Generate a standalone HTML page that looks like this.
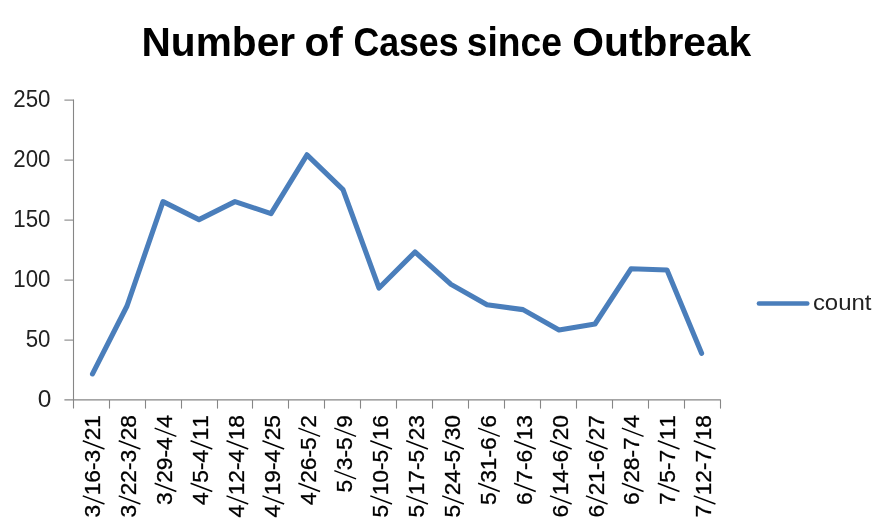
<!DOCTYPE html>
<html lang="en"><head><meta charset="utf-8"><title>Number of Cases since Outbreak</title>
<style>
html,body{margin:0;padding:0;background:#fff;}
body{width:890px;height:524px;overflow:hidden;}
svg{display:block;will-change:transform;}
text{font-family:"Liberation Sans",sans-serif;}
</style></head><body>
<svg width="890" height="524" viewBox="0 0 890 524">
<rect x="0" y="0" width="890" height="524" fill="#ffffff"/>

<g font-weight="bold" font-size="41" fill="#000">
<text x="141.5" y="56.3" textLength="153.6" lengthAdjust="spacingAndGlyphs">Number</text>
<text x="304.5" y="56.3" textLength="38.3" lengthAdjust="spacingAndGlyphs">of</text>
<text x="353.4" y="56.3" textLength="105.1" lengthAdjust="spacingAndGlyphs">Cases</text>
<text x="466.8" y="56.3" textLength="95.2" lengthAdjust="spacingAndGlyphs">since</text>
<text x="572.3" y="56.3" textLength="179.0" lengthAdjust="spacingAndGlyphs">Outbreak</text>
</g>
<g stroke="#868686" stroke-width="1.1" fill="none">
<line x1="73.5" y1="99.6" x2="73.5" y2="408.6"/>
<line x1="64.4" y1="399.88" x2="720.9" y2="399.88"/>
<line x1="64.4" y1="340.10" x2="73.5" y2="340.10"/>
<line x1="64.4" y1="280.10" x2="73.5" y2="280.10"/>
<line x1="64.4" y1="220.10" x2="73.5" y2="220.10"/>
<line x1="64.4" y1="160.10" x2="73.5" y2="160.10"/>
<line x1="64.4" y1="100.10" x2="73.5" y2="100.10"/>
<line x1="109.50" y1="400.0" x2="109.50" y2="408.6"/>
<line x1="145.50" y1="400.0" x2="145.50" y2="408.6"/>
<line x1="181.50" y1="400.0" x2="181.50" y2="408.6"/>
<line x1="217.50" y1="400.0" x2="217.50" y2="408.6"/>
<line x1="252.50" y1="400.0" x2="252.50" y2="408.6"/>
<line x1="288.50" y1="400.0" x2="288.50" y2="408.6"/>
<line x1="324.50" y1="400.0" x2="324.50" y2="408.6"/>
<line x1="360.50" y1="400.0" x2="360.50" y2="408.6"/>
<line x1="396.50" y1="400.0" x2="396.50" y2="408.6"/>
<line x1="432.50" y1="400.0" x2="432.50" y2="408.6"/>
<line x1="468.50" y1="400.0" x2="468.50" y2="408.6"/>
<line x1="504.50" y1="400.0" x2="504.50" y2="408.6"/>
<line x1="540.50" y1="400.0" x2="540.50" y2="408.6"/>
<line x1="576.50" y1="400.0" x2="576.50" y2="408.6"/>
<line x1="612.50" y1="400.0" x2="612.50" y2="408.6"/>
<line x1="648.50" y1="400.0" x2="648.50" y2="408.6"/>
<line x1="684.50" y1="400.0" x2="684.50" y2="408.6"/>
<line x1="720.50" y1="400.0" x2="720.50" y2="408.6"/>
</g>
<g font-size="23.2" fill="#222" text-anchor="end">
<text x="51.3" y="407.0" textLength="13.6" lengthAdjust="spacingAndGlyphs">0</text>
<text x="50.5" y="347.0" textLength="24.8" lengthAdjust="spacingAndGlyphs">50</text>
<text x="50.5" y="287.0" textLength="37.2" lengthAdjust="spacingAndGlyphs">100</text>
<text x="50.5" y="227.0" textLength="37.2" lengthAdjust="spacingAndGlyphs">150</text>
<text x="50.5" y="167.0" textLength="37.2" lengthAdjust="spacingAndGlyphs">200</text>
<text x="50.5" y="107.0" textLength="37.2" lengthAdjust="spacingAndGlyphs">250</text>
</g>
<g font-size="22.8" fill="#000" stroke="#000" stroke-width="0.3">
<text transform="translate(100.37,415.0) rotate(-90)" x="-102.59 -80.34 -67.74 -55.07 -47.49 -25.24 -12.64" y="0">316-321</text>
<text transform="translate(136.31,415.0) rotate(-90)" x="-102.59 -80.34 -67.74 -55.07 -47.49 -25.24 -12.64" y="0">322-328</text>
<text transform="translate(172.25,415.0) rotate(-90)" x="-89.99 -67.74 -55.14 -42.47 -34.89 -12.64" y="0">329-44</text>
<text transform="translate(208.19,415.0) rotate(-90)" x="-89.99 -67.74 -55.07 -47.49 -25.24 -12.64" y="0">45-411</text>
<text transform="translate(244.12,415.0) rotate(-90)" x="-102.59 -80.34 -67.74 -55.07 -47.49 -25.24 -12.64" y="0">412-418</text>
<text transform="translate(280.06,415.0) rotate(-90)" x="-102.59 -80.34 -67.74 -55.07 -47.49 -25.24 -12.64" y="0">419-425</text>
<text transform="translate(316.00,415.0) rotate(-90)" x="-89.99 -67.74 -55.14 -42.47 -34.89 -12.64" y="0">426-52</text>
<text transform="translate(351.94,415.0) rotate(-90)" x="-77.39 -55.14 -42.47 -34.89 -12.64" y="0">53-59</text>
<text transform="translate(387.88,415.0) rotate(-90)" x="-102.59 -80.34 -67.74 -55.07 -47.49 -25.24 -12.64" y="0">510-516</text>
<text transform="translate(423.82,415.0) rotate(-90)" x="-102.59 -80.34 -67.74 -55.07 -47.49 -25.24 -12.64" y="0">517-523</text>
<text transform="translate(459.76,415.0) rotate(-90)" x="-102.59 -80.34 -67.74 -55.07 -47.49 -25.24 -12.64" y="0">524-530</text>
<text transform="translate(495.70,415.0) rotate(-90)" x="-89.99 -67.74 -55.14 -42.47 -34.89 -12.64" y="0">531-66</text>
<text transform="translate(531.64,415.0) rotate(-90)" x="-89.99 -67.74 -55.07 -47.49 -25.24 -12.64" y="0">67-613</text>
<text transform="translate(567.57,415.0) rotate(-90)" x="-102.59 -80.34 -67.74 -55.07 -47.49 -25.24 -12.64" y="0">614-620</text>
<text transform="translate(603.51,415.0) rotate(-90)" x="-102.59 -80.34 -67.74 -55.07 -47.49 -25.24 -12.64" y="0">621-627</text>
<text transform="translate(639.45,415.0) rotate(-90)" x="-89.99 -67.74 -55.14 -42.47 -34.89 -12.64" y="0">628-74</text>
<text transform="translate(675.39,415.0) rotate(-90)" x="-89.99 -67.74 -55.07 -47.49 -25.24 -12.64" y="0">75-711</text>
<text transform="translate(711.33,415.0) rotate(-90)" x="-102.59 -80.34 -67.74 -55.07 -47.49 -25.24 -12.64" y="0">712-718</text>
</g>
<g stroke="#000" stroke-width="1.55" fill="none">
<path transform="translate(100.37,415.0) rotate(-90)" d="M-33.95,4.1L-25.75,-17.6 M-89.05,4.1L-80.85,-17.6"/>
<path transform="translate(136.31,415.0) rotate(-90)" d="M-33.95,4.1L-25.75,-17.6 M-89.05,4.1L-80.85,-17.6"/>
<path transform="translate(172.25,415.0) rotate(-90)" d="M-21.35,4.1L-13.15,-17.6 M-76.45,4.1L-68.25,-17.6"/>
<path transform="translate(208.19,415.0) rotate(-90)" d="M-33.95,4.1L-25.75,-17.6 M-76.45,4.1L-68.25,-17.6"/>
<path transform="translate(244.12,415.0) rotate(-90)" d="M-33.95,4.1L-25.75,-17.6 M-89.05,4.1L-80.85,-17.6"/>
<path transform="translate(280.06,415.0) rotate(-90)" d="M-33.95,4.1L-25.75,-17.6 M-89.05,4.1L-80.85,-17.6"/>
<path transform="translate(316.00,415.0) rotate(-90)" d="M-21.35,4.1L-13.15,-17.6 M-76.45,4.1L-68.25,-17.6"/>
<path transform="translate(351.94,415.0) rotate(-90)" d="M-21.35,4.1L-13.15,-17.6 M-63.85,4.1L-55.65,-17.6"/>
<path transform="translate(387.88,415.0) rotate(-90)" d="M-33.95,4.1L-25.75,-17.6 M-89.05,4.1L-80.85,-17.6"/>
<path transform="translate(423.82,415.0) rotate(-90)" d="M-33.95,4.1L-25.75,-17.6 M-89.05,4.1L-80.85,-17.6"/>
<path transform="translate(459.76,415.0) rotate(-90)" d="M-33.95,4.1L-25.75,-17.6 M-89.05,4.1L-80.85,-17.6"/>
<path transform="translate(495.70,415.0) rotate(-90)" d="M-21.35,4.1L-13.15,-17.6 M-76.45,4.1L-68.25,-17.6"/>
<path transform="translate(531.64,415.0) rotate(-90)" d="M-33.95,4.1L-25.75,-17.6 M-76.45,4.1L-68.25,-17.6"/>
<path transform="translate(567.57,415.0) rotate(-90)" d="M-33.95,4.1L-25.75,-17.6 M-89.05,4.1L-80.85,-17.6"/>
<path transform="translate(603.51,415.0) rotate(-90)" d="M-33.95,4.1L-25.75,-17.6 M-89.05,4.1L-80.85,-17.6"/>
<path transform="translate(639.45,415.0) rotate(-90)" d="M-21.35,4.1L-13.15,-17.6 M-76.45,4.1L-68.25,-17.6"/>
<path transform="translate(675.39,415.0) rotate(-90)" d="M-33.95,4.1L-25.75,-17.6 M-76.45,4.1L-68.25,-17.6"/>
<path transform="translate(711.33,415.0) rotate(-90)" d="M-33.95,4.1L-25.75,-17.6 M-89.05,4.1L-80.85,-17.6"/>
</g>
<polyline points="92.50,373.92 127.00,306.00 163.00,201.60 199.00,219.60 235.00,201.60 271.00,213.60 307.00,154.80 343.00,189.60 379.00,288.00 415.00,252.00 451.00,284.40 487.00,304.80 523.00,309.60 559.00,330.00 595.00,324.00 631.00,268.80 667.00,270.00 701.60,353.28" fill="none" stroke="#4a7ebb" stroke-width="5.1" stroke-linecap="round" stroke-linejoin="round"/>
<line x1="758.9" y1="303.55" x2="807.3" y2="303.55" stroke="#4a7ebb" stroke-width="4.5" stroke-linecap="round"/>
<text x="812.9" y="310.45" font-size="22.5" fill="#222" textLength="58.6" lengthAdjust="spacingAndGlyphs">count</text>
</svg></body></html>
